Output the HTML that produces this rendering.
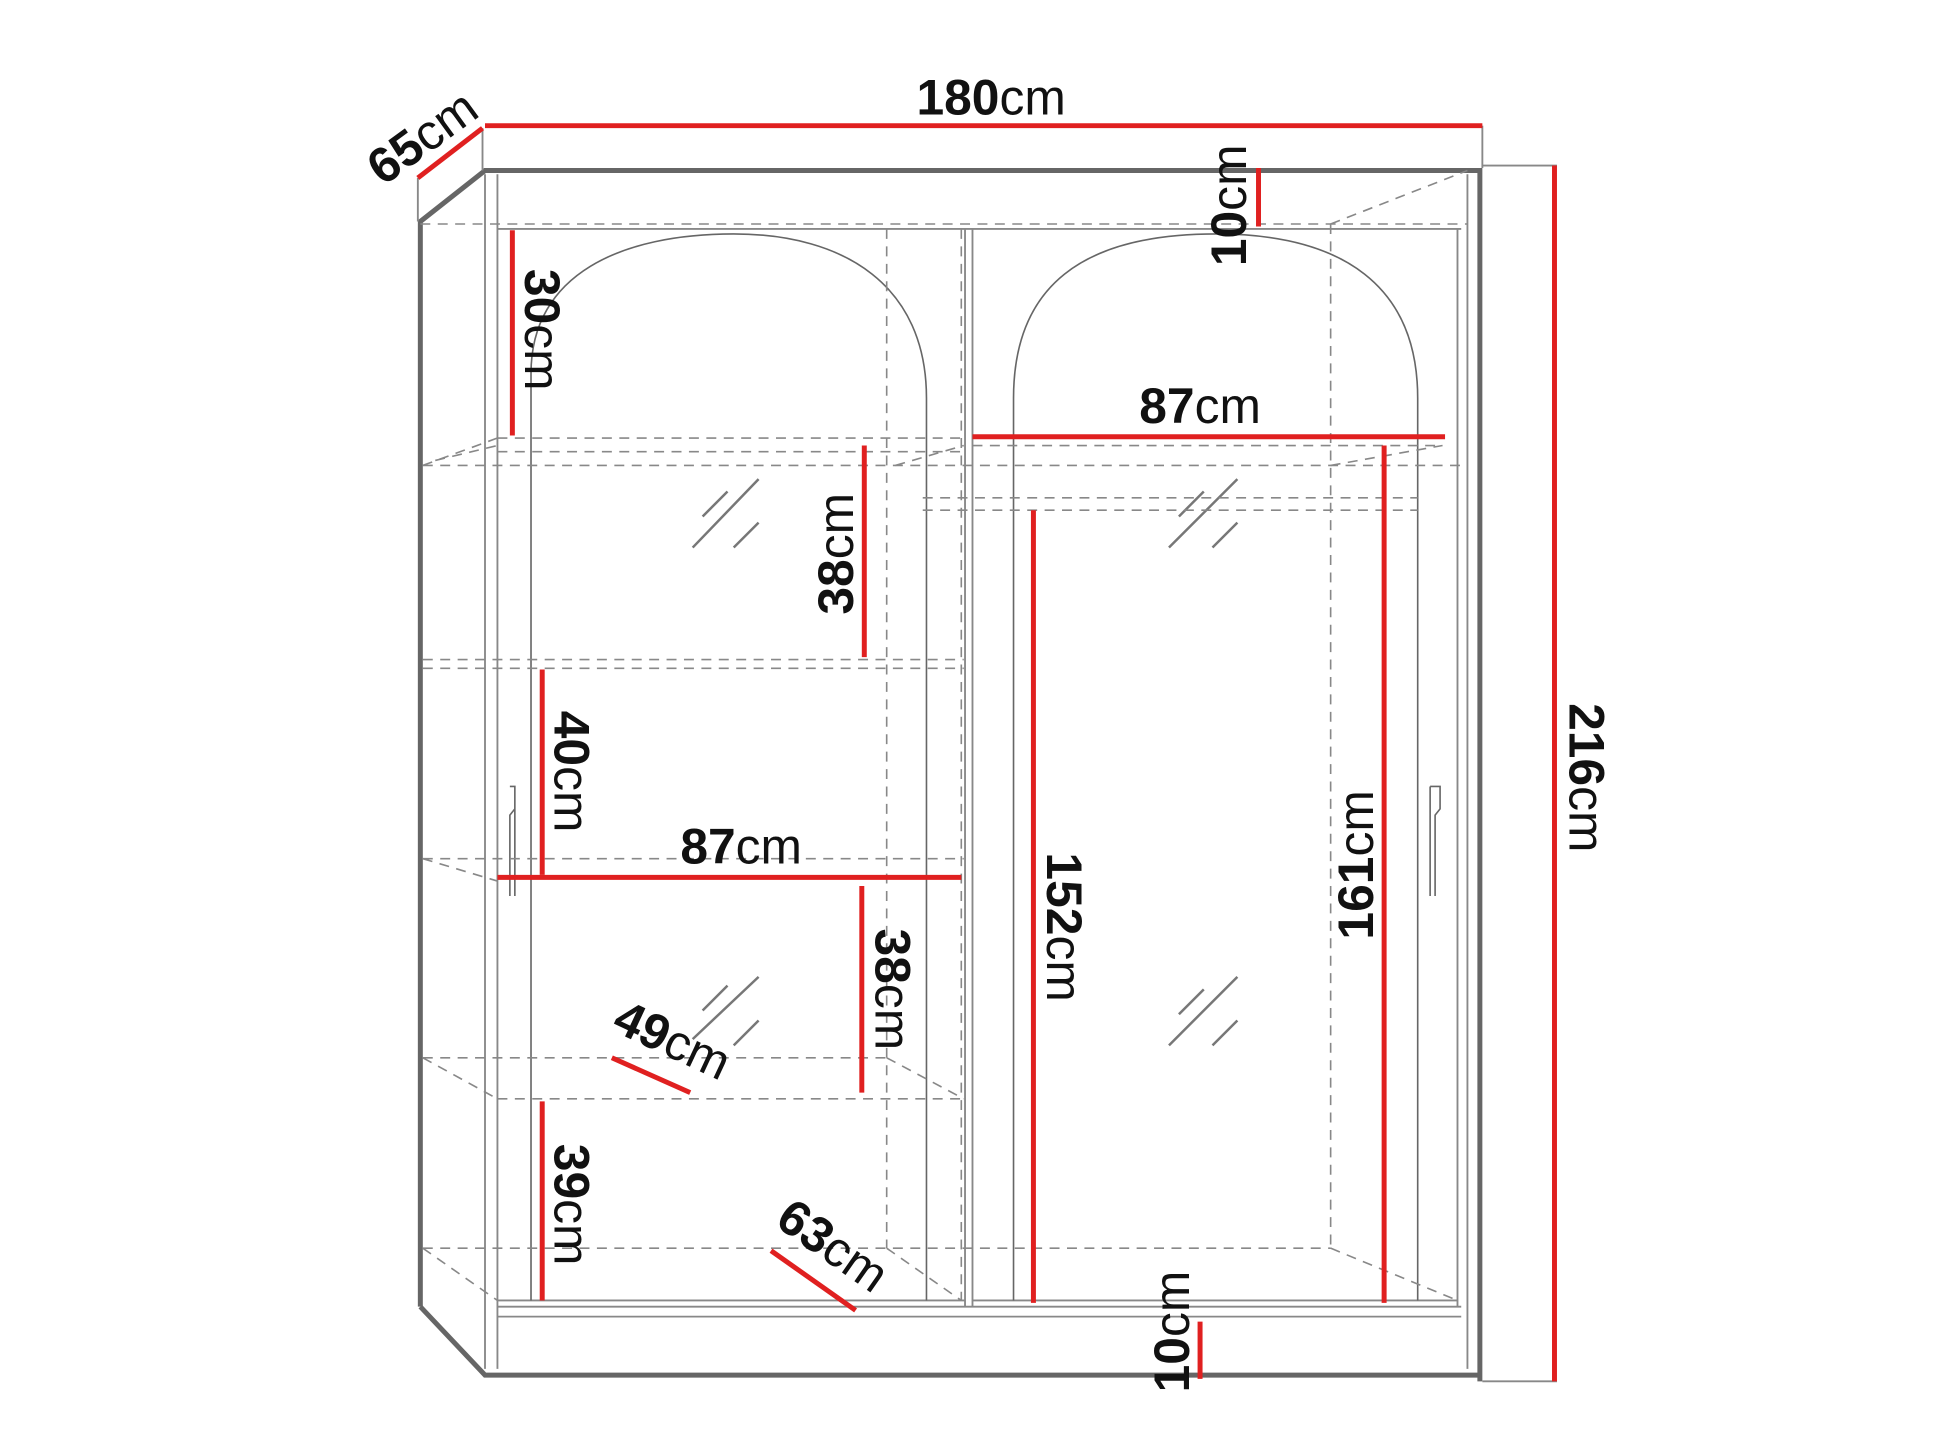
<!DOCTYPE html>
<html><head><meta charset="utf-8"><style>
html,body{margin:0;padding:0;background:#fff;}
svg{display:block;}
text{font-family:"Liberation Sans",sans-serif;font-size:40px;fill:#111;}
.b{font-weight:bold;}
</style></head><body>
<svg width="1940" height="1456" viewBox="0 0 1560 1170" preserveAspectRatio="none" xmlns="http://www.w3.org/2000/svg">
<rect width="1560" height="1170" fill="#fff"/>
<g fill="none" stroke="#666" stroke-width="4">
<path d="M338 1050 L338 178 L390 137 L1190 137 L1190 1110"/>
<path d="M338 1050 L390 1105 L1190 1105"/>
</g>
<g fill="none" stroke="#888" stroke-width="1.5">
<line x1="336" y1="143" x2="336" y2="178"/>
<line x1="388" y1="103" x2="388" y2="137"/>
<line x1="1192" y1="101" x2="1192" y2="135"/>
<line x1="1192" y1="133" x2="1252" y2="133"/>
<line x1="1192" y1="1110" x2="1252" y2="1110"/>
<line x1="400" y1="140" x2="400" y2="1100"/>
<line x1="390" y1="140" x2="390" y2="1100"/>
<line x1="1180" y1="140" x2="1180" y2="1100"/>
<line x1="400" y1="184" x2="1175" y2="184"/>
<line x1="776" y1="184" x2="776" y2="1050"/>
<line x1="782" y1="184" x2="782" y2="1050"/>
<line x1="1172" y1="184" x2="1172" y2="1050"/>
<line x1="400" y1="1050" x2="1175" y2="1050"/>
<line x1="400" y1="1058" x2="1175" y2="1058"/>
<line x1="400" y1="1045" x2="776" y2="1045"/>
<line x1="782" y1="1045" x2="1172" y2="1045"/>
</g>
<g fill="none" stroke="#666" stroke-width="1.3">
<path d="M427 1045 L427 300 C427 220 500 188 590 188 C680 188 745 230 745 320 L745 1045"/>
<path d="M815 1045 L815 320 C815 230 870 188 978 188 C1080 188 1140 230 1140 320 L1140 1045"/>
<path d="M410 632 L414 632 L414 650 L410 655 L410 720 M414 650 L414 720"/>
<path d="M1150 632 L1158 632 L1158 650 L1154 655 L1154 720 M1150 632 L1150 720"/>
</g>
<g fill="none" stroke="#777" stroke-width="2">
<line x1="557" y1="440" x2="610" y2="385"/><line x1="565" y1="415" x2="585" y2="395"/><line x1="590" y1="440" x2="610" y2="420"/>
<line x1="940" y1="440" x2="995" y2="385"/><line x1="948" y1="415" x2="968" y2="395"/><line x1="975" y1="440" x2="995" y2="420"/>
<line x1="557" y1="835" x2="610" y2="785"/><line x1="565" y1="812" x2="585" y2="792"/><line x1="590" y1="840" x2="610" y2="820"/>
<line x1="940" y1="840" x2="995" y2="785"/><line x1="948" y1="815" x2="968" y2="795"/><line x1="975" y1="840" x2="995" y2="820"/>
</g>
<g fill="none" stroke="#888" stroke-width="1.3" stroke-dasharray="8 6">
<line x1="338" y1="180" x2="1180" y2="180"/>
<line x1="1070" y1="180" x2="1180" y2="137"/>
<line x1="1070" y1="180" x2="1070" y2="1003"/>
<line x1="713" y1="184" x2="713" y2="1003"/>
<line x1="773" y1="184" x2="773" y2="1045"/>
<line x1="400" y1="352" x2="775" y2="352"/>
<line x1="400" y1="363" x2="775" y2="363"/>
<line x1="340" y1="374" x2="1175" y2="374"/>
<line x1="340" y1="374" x2="400" y2="352"/><line x1="350" y1="370" x2="400" y2="358"/>
<line x1="720" y1="374" x2="775" y2="358"/>
<line x1="782" y1="358" x2="1160" y2="358"/>
<line x1="1070" y1="374" x2="1160" y2="358"/>
<line x1="742" y1="400" x2="1140" y2="400"/>
<line x1="742" y1="410" x2="1140" y2="410"/>
<line x1="340" y1="530" x2="775" y2="530"/>
<line x1="340" y1="537" x2="775" y2="537"/>
<line x1="340" y1="690" x2="775" y2="690"/>
<line x1="340" y1="690" x2="400" y2="708"/>
<line x1="340" y1="850" x2="713" y2="850"/>
<line x1="400" y1="883" x2="775" y2="883"/>
<line x1="340" y1="850" x2="400" y2="883"/>
<line x1="713" y1="850" x2="775" y2="883"/>
<line x1="340" y1="1003" x2="1070" y2="1003"/>
<line x1="340" y1="1003" x2="400" y2="1045"/>
<line x1="713" y1="1003" x2="773" y2="1045"/>
<line x1="1070" y1="1003" x2="1172" y2="1045"/>
</g>
<g stroke="#e02020" stroke-width="4" fill="none">
<line x1="390" y1="101" x2="1192" y2="101"/>
<line x1="336" y1="143" x2="388" y2="103"/>
<line x1="1250" y1="133" x2="1250" y2="1110"/>
<line x1="1012" y1="135" x2="1012" y2="182"/>
<line x1="412" y1="185" x2="412" y2="350"/>
<line x1="695" y1="358" x2="695" y2="528"/>
<line x1="782" y1="351" x2="1162" y2="351"/>
<line x1="436" y1="538" x2="436" y2="703"/>
<line x1="400" y1="705" x2="773" y2="705"/>
<line x1="693" y1="712" x2="693" y2="878"/>
<line x1="492" y1="850" x2="555" y2="878"/>
<line x1="436" y1="885" x2="436" y2="1045"/>
<line x1="620" y1="1005" x2="688" y2="1053"/>
<line x1="831" y1="410" x2="831" y2="1047"/>
<line x1="1113" y1="358" x2="1113" y2="1047"/>
<line x1="965" y1="1062" x2="965" y2="1108"/>
</g>
<text x="797" y="92" text-anchor="middle"><tspan class="b">180</tspan>cm</text>
<text transform="translate(308,150) rotate(-36)"><tspan class="b">65</tspan>cm</text>
<text transform="translate(1262,625) rotate(90)" text-anchor="middle"><tspan class="b">216</tspan>cm</text>
<text transform="translate(1002,165) rotate(-90)" text-anchor="middle"><tspan class="b">10</tspan>cm</text>
<text transform="translate(422,265) rotate(90)" text-anchor="middle"><tspan class="b">30</tspan>cm</text>
<text transform="translate(686,445) rotate(-90)" text-anchor="middle"><tspan class="b">38</tspan>cm</text>
<text x="965" y="340" text-anchor="middle"><tspan class="b">87</tspan>cm</text>
<text transform="translate(446,620) rotate(90)" text-anchor="middle"><tspan class="b">40</tspan>cm</text>
<text x="596" y="694" text-anchor="middle"><tspan class="b">87</tspan>cm</text>
<text transform="translate(704,795) rotate(90)" text-anchor="middle"><tspan class="b">38</tspan>cm</text>
<text transform="translate(535,848) rotate(25)" text-anchor="middle"><tspan class="b">49</tspan>cm</text>
<text transform="translate(446,968) rotate(90)" text-anchor="middle"><tspan class="b">39</tspan>cm</text>
<text transform="translate(662,1012) rotate(35)" text-anchor="middle"><tspan class="b">63</tspan>cm</text>
<text transform="translate(842,745) rotate(90)" text-anchor="middle"><tspan class="b">152</tspan>cm</text>
<text transform="translate(1104,695) rotate(-90)" text-anchor="middle"><tspan class="b">161</tspan>cm</text>
<text transform="translate(956,1070) rotate(-90)" text-anchor="middle"><tspan class="b">10</tspan>cm</text>
</svg>
</body></html>
